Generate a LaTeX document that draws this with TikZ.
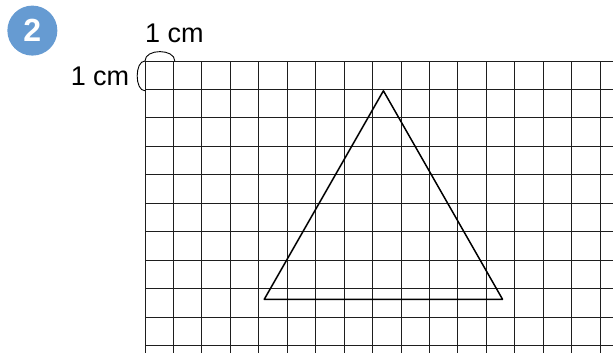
\documentclass[tikz,border=0pt]{standalone}
\usepackage{fontspec}
\setmainfont{Liberation Sans}
\usepackage{tikz}
\usetikzlibrary{positioning}
\definecolor{badgeblue}{RGB}{102,155,210}
\definecolor{gridgray}{RGB}{30,30,30}

\begin{document}
\begin{tikzpicture}[x=29.8pt,y=29.8pt,every node/.style={font=\fontsize{27}{30}\selectfont}]
\useasboundingbox (-4.866,-9.799) rectangle (15.705,2.047);
\draw[gridgray,line width=1pt] (0,-9.799) grid (15.705,0);
\draw[line width=1.5pt,line join=round] (4,-8) -- (12,-8) -- (8,-1) -- cycle;
\draw[line width=0.9pt] (0,0) .. controls (0,0.42) and (1,0.42) .. (1,0);
\draw[line width=0.9pt] (0,0) .. controls (-0.35,0) and (-0.35,-1) .. (0,-1);
\node[circle,fill=badgeblue,minimum size=50pt,inner sep=0pt,text=white,font=\fontsize{32}{34}\selectfont\bfseries] (badge) at (-3.78,1.02) {2};
\node (topcm) at (0.99,0.94) {1 cm};
\node (leftcm) at (-1.51,-0.5) {1 cm};
\end{tikzpicture}
\end{document}
